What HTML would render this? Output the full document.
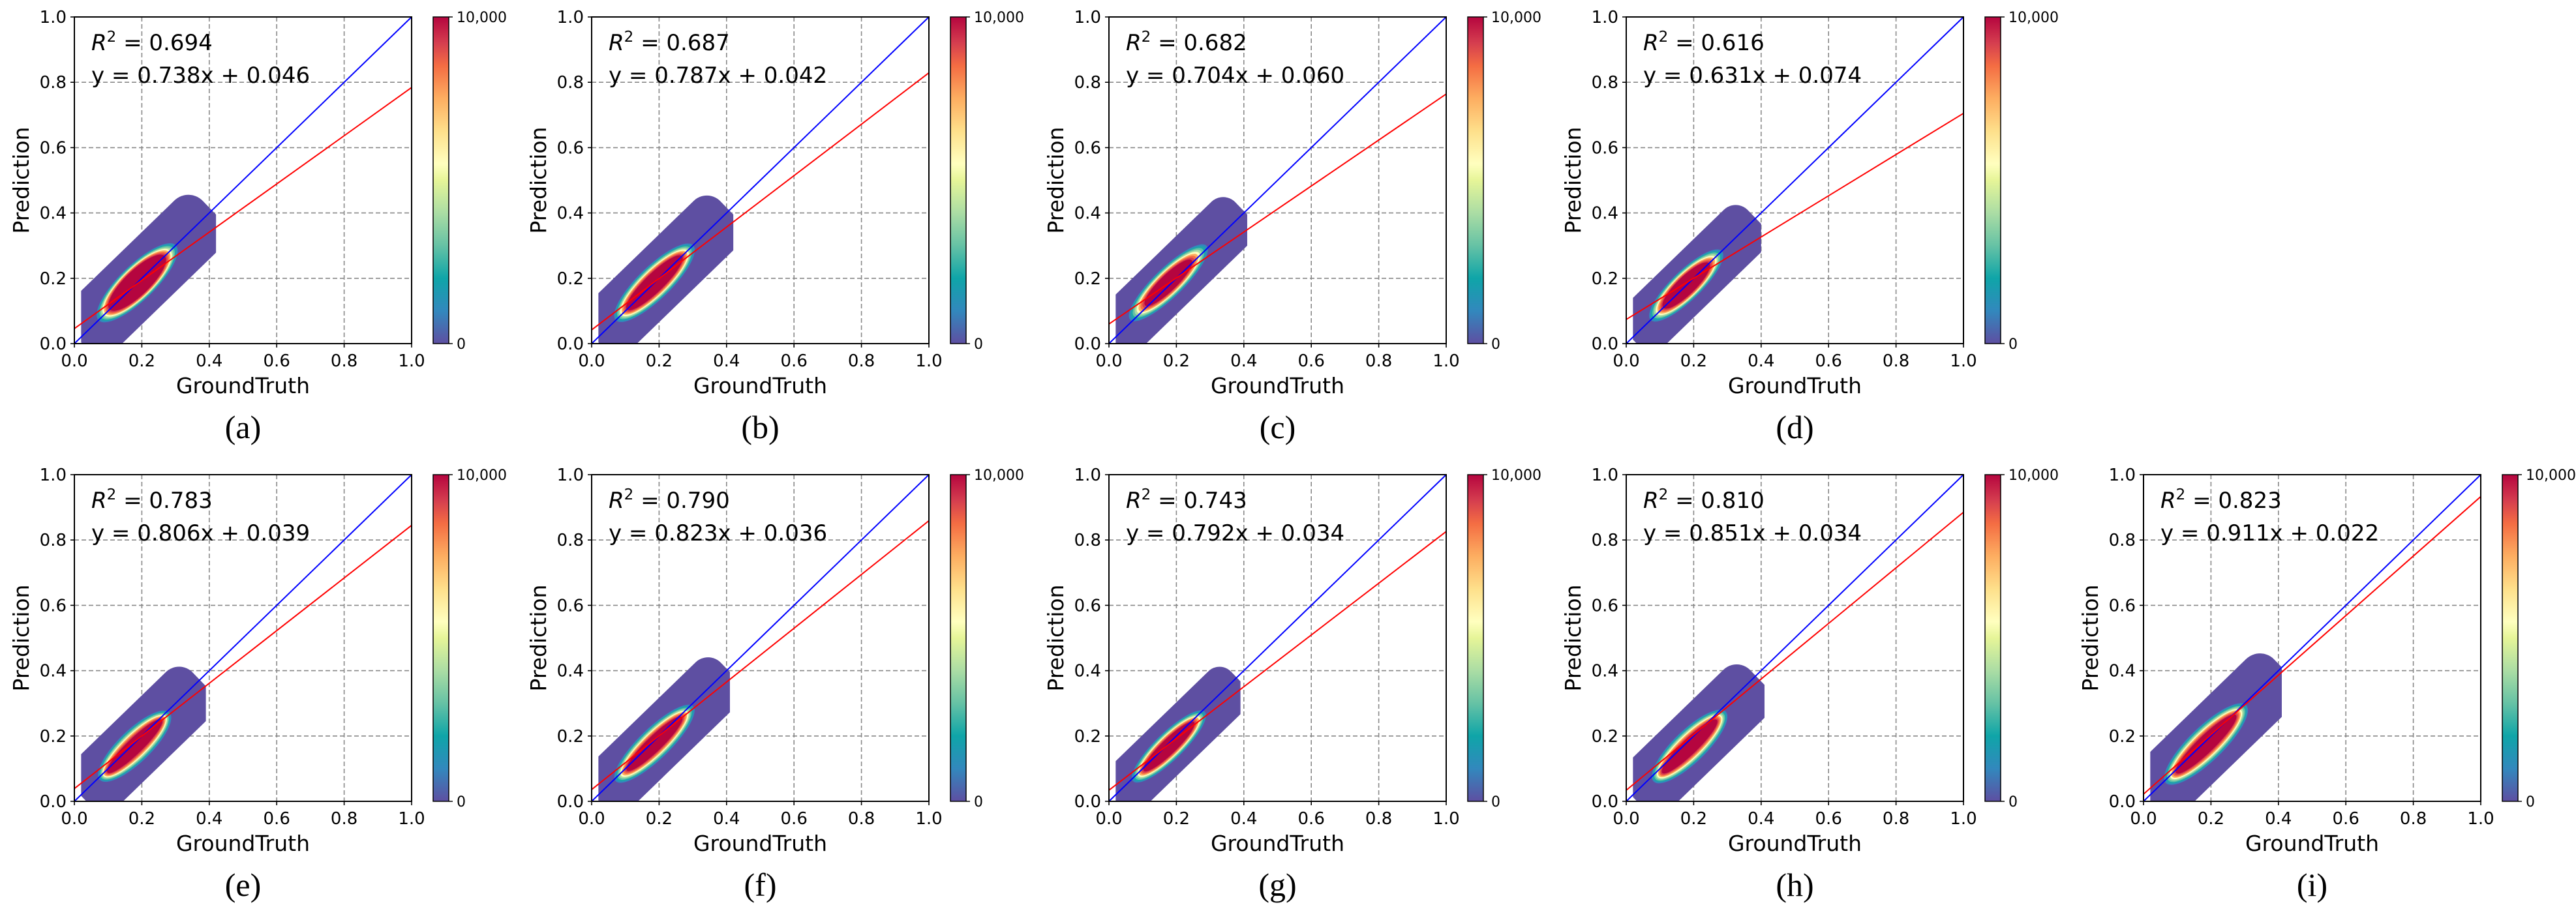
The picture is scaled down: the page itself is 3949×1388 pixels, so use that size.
<!DOCTYPE html>
<html><head><meta charset="utf-8">
<style>
html,body{margin:0;padding:0;background:#fff;}
svg{display:block;font-family:"DejaVu Sans","Liberation Sans",sans-serif;}
</style></head>
<body>
<svg id="fig" width="3949" height="1388" viewBox="0 0 3949 1388" xmlns="http://www.w3.org/2000/svg">
<defs>
<linearGradient id="spec" x1="0" y1="1" x2="0" y2="0">
<stop offset="0" stop-color="#5e4fa2"/>
<stop offset="0.1" stop-color="#3288bd"/>
<stop offset="0.2" stop-color="#0fa5a8"/>
<stop offset="0.3" stop-color="#66c2a5"/>
<stop offset="0.4" stop-color="#abdda4"/>
<stop offset="0.5" stop-color="#e6f598"/>
<stop offset="0.55" stop-color="#ffffbf"/>
<stop offset="0.65" stop-color="#fee08b"/>
<stop offset="0.75" stop-color="#fdae61"/>
<stop offset="0.85" stop-color="#f46d43"/>
<stop offset="0.92" stop-color="#d53e4f"/>
<stop offset="1" stop-color="#b5053f"/>
</linearGradient>
</defs>
</svg>
<script>
const panelLabels = ['(a)','(b)','(c)','(d)','(e)','(f)','(g)','(h)','(i)'];
const r2Values = ['0.694','0.687','0.682','0.616','0.783','0.790','0.743','0.810','0.823'];
const slopes = [0.738,0.787,0.704,0.631,0.806,0.823,0.792,0.851,0.911];
const intercepts = [0.046,0.042,0.060,0.074,0.039,0.036,0.034,0.034,0.022];
const cloudCx = [0.21,0.21,0.20,0.20,0.20,0.21,0.20,0.21,0.21];
const cloudCy = [0.21,0.21,0.21,0.20,0.19,0.20,0.19,0.19,0.20];
const cloudMajor = [0.28,0.28,0.28,0.26,0.25,0.28,0.26,0.26,0.29];
const cloudMinor = [0.10,0.095,0.085,0.085,0.095,0.09,0.08,0.095,0.10];
const cloudXmin = [0.02,0.02,0.02,0.02,0.02,0.02,0.02,0.02,0.02];
const cloudXmax = [0.42,0.42,0.41,0.40,0.39,0.41,0.39,0.41,0.41];
const coreMajor = [0.11,0.11,0.09,0.09,0.11,0.11,0.10,0.11,0.12];
const coreMinor = [0.035,0.025,0.022,0.025,0.02,0.02,0.02,0.02,0.022];
const tickVals = [0,0.2,0.4,0.6,0.8,1.0];
const tickLabels = ['0.0','0.2','0.4','0.6','0.8','1.0'];
const cbLabels = ['0','10,000'];

const NS='http://www.w3.org/2000/svg';
const svg=document.getElementById('fig');
const defs=svg.querySelector('defs');
function mk(tag,attrs,parent){const e=document.createElementNS(NS,tag);for(const k in attrs)e.setAttribute(k,attrs[k]);(parent||svg).appendChild(e);return e;}

const W=517,H=501;
const rowTops=[26,728];
const layerColors=['#3288bd','#1ea5a9','#66c2a5','#abdda4','#ffffbf','#fdae61','#f46d43','#d53e4f','#b5053f'];

panelLabels.forEach((lab,i)=>{
  const row=i<4?0:1, col=i<4?i:i-4;
  const L=114+793*col, T=rowTops[row], B=T+H;
  const sx=v=>L+v*W, sy=v=>B-v*H;
  const cp=mk('clipPath',{id:'clip'+i},defs);
  mk('rect',{x:sx(cloudXmin[i]),y:T,width:sx(cloudXmax[i])-sx(cloudXmin[i]),height:H},cp);
  const g=mk('g',{});
  
  
  tickVals.slice(1).forEach(v=>{
    const gx=mk('line',{x1:sx(v),y1:T,x2:sx(v),y2:B,stroke:'#888',"stroke-width":1.6,"stroke-dasharray":'7,4'},g);
    
    
    const gy=mk('line',{x1:L,y1:sy(v),x2:L+W,y2:sy(v),stroke:'#888',"stroke-width":1.6,"stroke-dasharray":'7,4'},g);
    
    
  });
  const ang=-Math.atan2(H,W)*180/Math.PI;
  const cx=sx(cloudCx[i]), cy=sy(cloudCy[i]);
  const clipG=mk('g',{"clip-path":`url(#clip${i})`},g);
  const cg=mk('g',{transform:`translate(${cx},${cy}) rotate(${ang})`},clipG);
  
  
  const u=(W+H)/2;
  const R=cloudMajor[i]*u, r=cloudMinor[i]*u;
  const outer=mk('rect',{x:-R,y:-r,width:2*R,height:2*r,rx:r*0.6,ry:r*0.6,fill:'#5e4fa2'},cg);
  
  
  const n=layerColors.length;
  const off=-R*0.12;
  layerColors.forEach((c,k)=>{
    const f=1-(k+1)/(n+1);
    const rx=coreMajor[i]*u+(R*0.6-coreMajor[i]*u)*f;
    const ry=coreMinor[i]*u+(r*0.55-coreMinor[i]*u)*f;
    const e=mk('ellipse',{cx:off,cy:0,rx:rx,ry:ry,fill:c},cg);
    
    
  });
  const one=mk('line',{x1:sx(0),y1:sy(0),x2:sx(1),y2:sy(1),stroke:'#0000ff',"stroke-width":2},g);
  
  
  const fit=mk('line',{x1:sx(0),y1:sy(intercepts[i]),x2:sx(1),y2:sy(slopes[i]+intercepts[i]),stroke:'#ff0000',"stroke-width":2},g);
  
  
  const fr=mk('rect',{x:L,y:T,width:W,height:H,fill:'none',stroke:'#000',"stroke-width":2},g);
  
  
  tickVals.forEach((v,k)=>{
    const tx=mk('line',{x1:sx(v),y1:B,x2:sx(v),y2:B+6,stroke:'#000',"stroke-width":1.6},g);
    
    
    const tlx=mk('text',{x:sx(v),y:B+35,"font-size":26,"text-anchor":'middle'},g);
    tlx.textContent=tickLabels[k];
    
    
    const ty=mk('line',{x1:L-6,y1:sy(v),x2:L,y2:sy(v),stroke:'#000',"stroke-width":1.6},g);
    
    
    const tly=mk('text',{x:L-12,y:sy(v)+9,"font-size":26,"text-anchor":'end'},g);
    tly.textContent=tickLabels[k];
    
    
  });
  const xt=mk('text',{x:L+W/2,y:B+76,"font-size":33,"text-anchor":'middle'},g);
  xt.textContent='GroundTruth';
  
  
  const yt=mk('text',{x:0,y:0,"font-size":33,"text-anchor":'middle',transform:`translate(${L-70},${T+H/2}) rotate(-90)`},g);
  yt.textContent='Prediction';
  
  
  const pl=mk('text',{x:L+W/2,y:B+145,"font-size":50,"text-anchor":'middle',"font-family":'"Liberation Serif",serif'},g);
  pl.textContent=lab;
  
  
  const a1=mk('text',{x:L+26,y:T+51,"font-size":34},g);
  a1.innerHTML='<tspan font-style="italic">R</tspan><tspan dy="-13" font-size="23">2</tspan><tspan dy="13"> = '+r2Values[i]+'</tspan>';
  
  
  const a2=mk('text',{x:L+26,y:T+101,"font-size":34},g);
  a2.textContent='y = '+slopes[i].toFixed(3)+'x + '+intercepts[i].toFixed(3);
  
  
  const cbx=L+550;
  const cb=mk('rect',{x:cbx,y:T,width:24,height:H,fill:'url(#spec)',stroke:'#000',"stroke-width":1.5},g);
  
  
  cbLabels.forEach((t,k)=>{
    const yy=k===0?B:T;
    const tk=mk('line',{x1:cbx+24,y1:yy,x2:cbx+30,y2:yy,stroke:'#000',"stroke-width":1.5},g);
    
    
    const tt=mk('text',{x:cbx+36,y:yy+8,"font-size":22},g);
    tt.textContent=t;
    
    
  });
});
</script>
</body></html>
